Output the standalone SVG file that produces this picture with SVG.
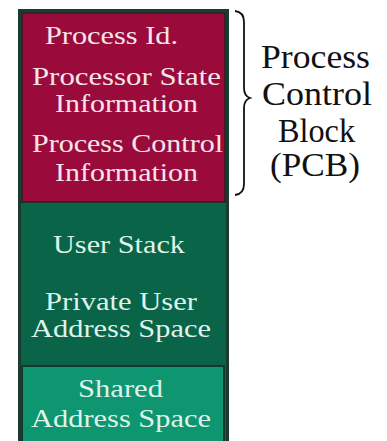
<svg xmlns="http://www.w3.org/2000/svg" width="387" height="441" viewBox="0 0 387 441">
<style>
.lt{font-family:"Liberation Serif","Times New Roman",serif;font-size:26px;text-anchor:start}
.pcb{fill:#f6e4ea}
.usr{fill:#dff3ea}
.rt{font-family:"Liberation Serif","Times New Roman",serif;font-size:34px;fill:#111}
</style>
<rect width="387" height="441" fill="#ffffff"/>
<g id="process-image">
<rect x="19.5" y="10.5" width="208" height="440" fill="#0a6448" stroke="#1b3a30" stroke-width="3"/>
</g>
<g id="pcb-block">
<rect x="22" y="13" width="203" height="189" fill="#9a0b3b" stroke="#2e1b22" stroke-width="1.5"/>
<text class="lt pcb" x="45" y="44" textLength="133" lengthAdjust="spacingAndGlyphs">Process Id.</text>
<text class="lt pcb" x="32" y="85" textLength="189" lengthAdjust="spacingAndGlyphs">Processor State</text>
<text class="lt pcb" x="55" y="112" textLength="143" lengthAdjust="spacingAndGlyphs">Information</text>
<text class="lt pcb" x="32" y="152" textLength="191" lengthAdjust="spacingAndGlyphs">Process Control</text>
<text class="lt pcb" x="55" y="181" textLength="143" lengthAdjust="spacingAndGlyphs">Information</text>
</g>
<g id="private-user">
<text class="lt usr" x="53" y="253" textLength="132" lengthAdjust="spacingAndGlyphs">User Stack</text>
<text class="lt usr" x="45" y="310" textLength="152" lengthAdjust="spacingAndGlyphs">Private User</text>
<text class="lt usr" x="31" y="337" textLength="180" lengthAdjust="spacingAndGlyphs">Address Space</text>
</g>
<g id="shared-space">
<rect x="22" y="366" width="202" height="80" fill="#0e9670" stroke="#17382d" stroke-width="2"/>
<text class="lt usr" x="78" y="397" textLength="85" lengthAdjust="spacingAndGlyphs">Shared</text>
<text class="lt usr" x="31" y="427" textLength="180" lengthAdjust="spacingAndGlyphs">Address Space</text>
</g>
<g id="connectors">
<path d="M235,11 Q244,12 244,22 L244,88 Q244,96 250,98 Q244,100 244,108 L244,184 Q244,194 235,195" fill="none" stroke="#111" stroke-width="1.8"/>
</g>
<g id="pcb-label">
<text class="rt" x="261" y="68" textLength="109" lengthAdjust="spacingAndGlyphs">Process</text>
<text class="rt" x="262" y="105" textLength="110" lengthAdjust="spacingAndGlyphs">Control</text>
<text class="rt" x="278" y="142" textLength="77" lengthAdjust="spacingAndGlyphs">Block</text>
<text class="rt" x="270" y="176" textLength="90" lengthAdjust="spacingAndGlyphs">(PCB)</text>
</g>
</svg>
